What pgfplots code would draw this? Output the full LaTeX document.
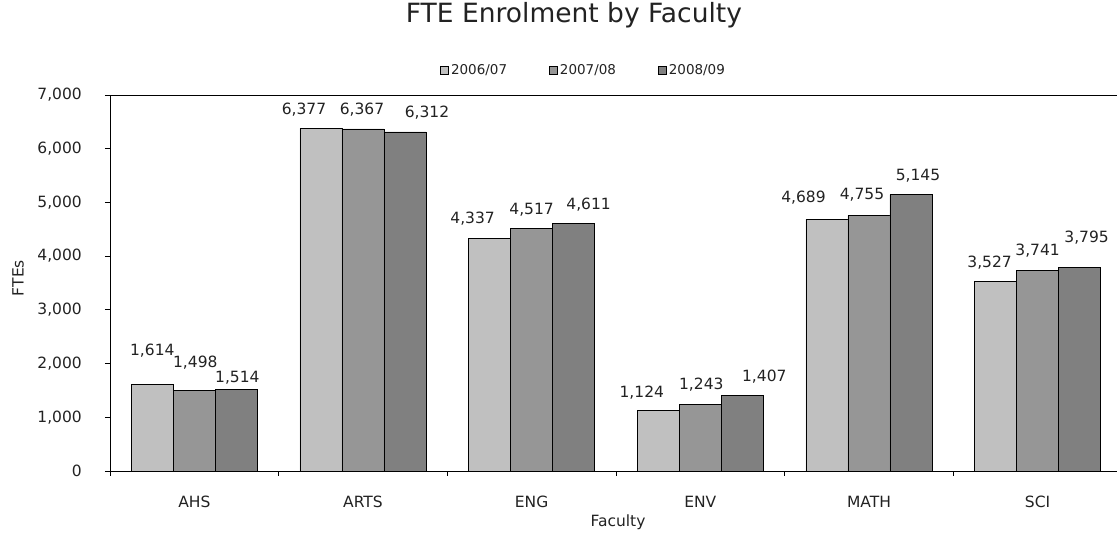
\documentclass[border=0pt]{standalone}
\usepackage{fontspec}
\setmainfont{DejaVu Sans}
\usepackage{pgfplots}
\usepackage{pgfplotstable}
\pgfplotsset{compat=1.18}
\pgfplotsset{/pgf/number format/assume math mode=true}
\definecolor{cA}{HTML}{C0C0C0}
\definecolor{cB}{HTML}{969696}
\definecolor{cC}{HTML}{808080}
\definecolor{txt}{HTML}{222222}

\pgfplotstableread{
x y dx dy
0 1614 0 34
1 6377 -17 19
2 4337 -17 19
3 1124 -16.5 18.4
4 4689 -23.5 21.8
5 3527 -6 19
}\tA
\pgfplotstableread{
x y dx dy
0 1498 1 28
1 6367 -1 19
2 4517 0 19
3 1243 1 19.2
4 4755 -7 21.3
5 3741 0 19
}\tB
\pgfplotstableread{
x y dx dy
0 1514 1 12
1 6312 22 19
2 4611 15 19
3 1407 22 18.7
4 5145 7 18.6
5 3795 7 29
}\tC

\newcommand{\fs}{\fontsize{15.5}{18}\selectfont}
\begin{document}
\begin{tikzpicture}
\useasboundingbox (0,0) rectangle (1117pt,534pt);
\begin{axis}[
  at={(110pt,63pt)}, anchor=south west,
  scale only axis, width=1012pt, height=376pt,
  ybar=0pt, bar width=42pt,
  xmin=-0.5, xmax=5.5, ymin=0, ymax=7000,
  enlargelimits=false,
  axis line style={black, line width=0.8pt},
  tick style={black, line width=0.8pt},
  major tick length=5pt,
  tick align=outside,
  xtick pos=bottom, ytick pos=left,
  xtick={-0.5,0.5,1.5,2.5,3.5,4.5,5.5},
  xticklabels={},
  extra x ticks={0,1,2,3,4,5},
  extra x tick labels={AHS,ARTS,ENG,ENV,MATH,SCI},
  extra x tick style={major tick length=0pt},
  ytick={0,1000,...,7000},
  /pgf/number format/1000 sep={,},
  yticklabel style={font=\fs, text=txt, anchor=east, xshift=-19.7pt},
  xticklabel style={font=\fs, text=txt, anchor=base, yshift=-37pt},
  title={FTE Enrolment by Faculty},
  title style={at={(0.4585,1.197)}, anchor=center, font=\fontsize{26.5}{31}\selectfont, text=txt},
  xlabel={Faculty},
  xlabel style={at={(0.502,-0.135)}, anchor=center, font=\fs, text=txt},
  ylabel={FTEs},
  ylabel style={at={(-0.0909,0.513)}, anchor=center, rotate=0, font=\fs, text=txt},
  legend columns=3,
  legend style={at={(0.468,1.066)}, anchor=center, draw=none, fill=none, inner sep=0pt,
    font=\fontsize{13.5}{16}\selectfont, text=txt,
    /tikz/every odd column/.append style={column sep=0pt},
    /tikz/every even column/.append style={column sep=40pt}},
  legend image code/.code={\draw[#1, draw=black, line width=0.8pt] (0pt,-4pt) rectangle (8pt,4pt);},
  visualization depends on={\thisrow{dx}\as\myx},
  visualization depends on={\thisrow{dy}\as\myy},
  nodes near coords={\pgfmathprintnumber[1000 sep={,}]{\pgfplotspointmeta}},
  nodes near coords style={anchor=center, xshift=\myx pt, yshift=\myy pt, font=\fs, text=txt},
]
\addplot[fill=cA, draw=black, line width=0.8pt] table[x=x,y=y]{\tA};
\addplot[fill=cB, draw=black, line width=0.8pt] table[x=x,y=y]{\tB};
\addplot[fill=cC, draw=black, line width=0.8pt] table[x=x,y=y]{\tC};
\legend{2006/07,2007/08,2008/09}
\end{axis}
\end{tikzpicture}
\end{document}
